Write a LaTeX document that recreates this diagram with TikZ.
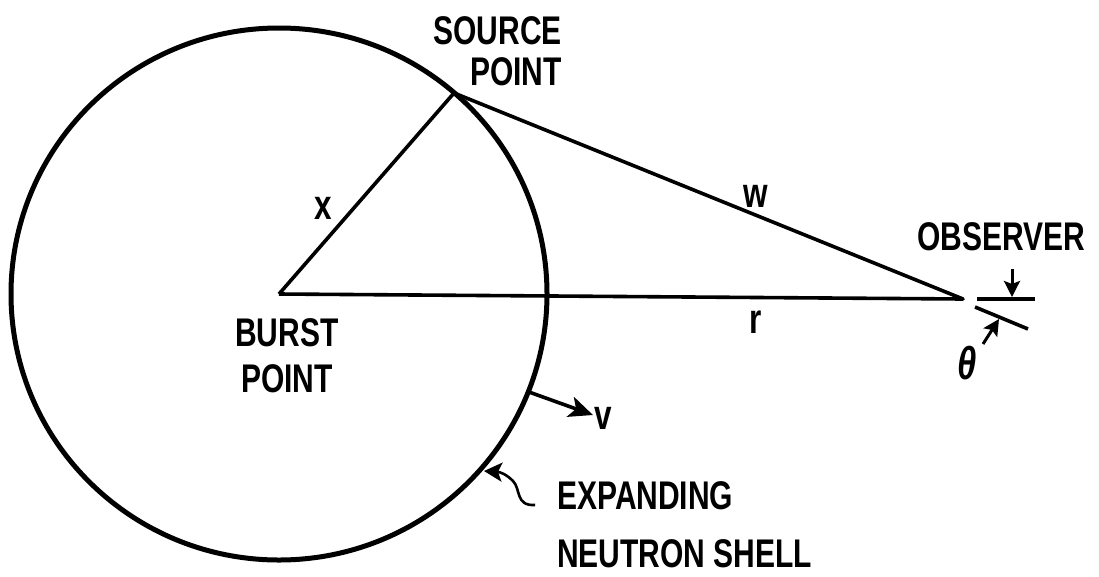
\documentclass[tikz,border=0pt]{standalone}
\usepackage{fontspec}
\setmainfont{Liberation Sans}[FakeStretch=0.75]
\usetikzlibrary{arrows.meta}
\tikzset{
  shell/.style={line width=5pt},
  geo/.style={line width=3.6pt},
  lab/.style={inner sep=0pt,font=\fontsize{40}{48}\selectfont\bfseries},
  sym/.style={inner sep=0pt,font=\fontsize{42}{42}\selectfont\bfseries},
  bigarrow/.style={line width=3.6pt,-{Stealth[length=24pt,width=21pt,inset=6pt]}},
  smallarrow/.style={line width=3pt,-{Stealth[length=16pt,width=16pt,inset=3pt]}},
}
\begin{document}
\begin{tikzpicture}[x=1pt,y=-1pt]
\useasboundingbox (0,0) rectangle (1099,576);
% geometry
\coordinate (burst) at (279,294);
\coordinate (source) at (454,93);
\coordinate (obs) at (963,299);
\coordinate (vfoot) at (529,392);
\coordinate (vtip) at (593,415);
\coordinate (sqstart) at (535,505);
\coordinate (sqtip) at (484,471);
\coordinate (oL) at (977,299);
\coordinate (oR) at (1035,299);
\coordinate (downfrom) at (1012,269);
\coordinate (downto) at (1012,297);
\coordinate (sL) at (975,307);
\coordinate (sR) at (1028,329);
\coordinate (thfrom) at (983,344);
\coordinate (thto) at (999,319);
% shell
\draw[shell] (burst) ellipse [x radius=268pt, y radius=266pt];
% triangle
\draw[geo,line join=round] (burst) -- (source) -- (obs) -- (burst);
% velocity arrow
\draw[bigarrow] (vfoot) -- (vtip);
% squiggle pointer
\draw[line width=2.6pt,-{Stealth[length=18pt,width=19pt,inset=4pt]}] (sqstart)
  .. controls (515,506) and (521,489) .. (513,481)
  .. controls (506,474) and (500,472) .. (sqtip);
% observer
\draw[geo] (oL) -- (oR);
\draw[geo] (sL) -- (sR);
\draw[smallarrow] (downfrom) -- (downto);
\draw[smallarrow] (thfrom) -- (thto);
% labels
\node[lab,align=right,anchor=east] (srclab) at (562,51) {SOURCE\\[-7pt]POINT};
\node[lab,align=center] (burstlab) at (287,356) {BURST\\[-2pt]POINT};
\node[lab,align=left,anchor=west] (shelllab) at (557,525) {EXPANDING\\[10pt]NEUTRON SHELL};
\node[lab] (obslab) at (1001,237) {OBSERVER};
\node[sym] (xlab) at (323,208) {x};
\node[sym] (wlab) at (756,196) {w};
\node[sym] (rlab) at (756,322) {r};
\node[sym] (vlab) at (603,418) {v};
\node[lab,font=\fontsize{46}{46}\selectfont\bfseries\itshape] (thlab) at (967,363) {θ};
\end{tikzpicture}
\end{document}
